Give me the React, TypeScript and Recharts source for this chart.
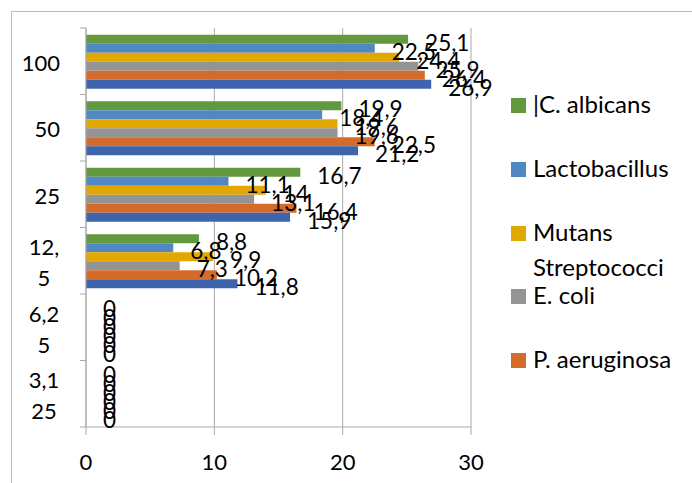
import React from "react";
import { Bar, BarChart, CartesianGrid, LabelList, XAxis, YAxis } from "recharts";

// concentrations, top to bottom
const concentrations = ["100", "50", "25", "12,5", "6,25", "3,125"];

const cAlbicans = [25.1, 19.9, 16.7, 8.8, 0, 0];
const lactobacillus = [22.5, 18.4, 11.1, 6.8, 0, 0];
const mutansStrep = [24.4, 19.6, 14, 9.9, 0, 0];
const eColi = [25.9, 19.6, 13.1, 7.3, 0, 0];
const pAeruginosa = [26.4, 22.5, 16.4, 10.2, 0, 0];
const sAureus = [26.9, 21.2, 15.9, 11.8, 0, 0];

const xTicks = [0, 10, 20, 30];

const SERIES = [
  { key: "calb", name: "|C. albicans", values: cAlbicans, color: "#62993f", legend: true },
  { key: "lacto", name: "Lactobacillus", values: lactobacillus, color: "#4f88c2", legend: true },
  { key: "mutans", name: "Mutans Streptococci", values: mutansStrep, color: "#e2a700", legend: true },
  { key: "ecoli", name: "E. coli", values: eColi, color: "#949494", legend: true },
  { key: "paer", name: "P. aeruginosa", values: pAeruginosa, color: "#d46b2b", legend: true },
  { key: "saur", name: "S. aureus", values: sAureus, color: "#3e64ae", legend: false },
];

const data = concentrations.map((c, i) => {
  const row: Record<string, string | number> = { conc: c };
  SERIES.forEach((s) => (row[s.key] = s.values[i]));
  return row;
});

const FONT = "Lato, 'Open Sans', sans-serif";
const AXIS_GRAY = "#a9a9a9";
const PLOT_LEFT = 86;
const PLOT_TOP = 28;
const PLOT_BOTTOM = 427;
const BAND = (PLOT_BOTTOM - PLOT_TOP) / concentrations.length;

const fmt = (v: number) => String(v).replace(".", ",");

// Excel-style wrapping: the label column only fits three characters
function splitLabel(s: string) {
  const out: string[] = [];
  for (let i = 0; i < s.length; i += 3) out.push(s.slice(i, i + 3));
  return out;
}

function CategoryTick(props: any) {
  const { y, payload, index } = props;
  const half = BAND / 2;
  const lines = splitLabel(String(payload.value));
  const last = index === concentrations.length - 1;
  return (
    <g>
      <line x1={PLOT_LEFT - 6} x2={PLOT_LEFT} y1={y - half} y2={y - half} stroke={AXIS_GRAY} />
      {last && <line x1={PLOT_LEFT - 6} x2={PLOT_LEFT} y1={y + half} y2={y + half} stroke={AXIS_GRAY} />}
      {lines.length === 1 ? (
        <text x={PLOT_LEFT - 26} y={y + 1} textAnchor="end" dominantBaseline="central"
          fontSize={22} fontFamily={FONT} fill="#000">
          {lines[0]}
        </text>
      ) : (
        lines.map((ln, i) => (
          <text key={i} x={PLOT_LEFT - 42} y={y + (i === 0 ? -14 : 17)} textAnchor="middle"
            dominantBaseline="central" fontSize={22} fontFamily={FONT} fill="#000">
            {ln}
          </text>
        ))
      )}
    </g>
  );
}

function ValueLabel(props: any) {
  const { x, y, width, height, value } = props;
  const w = Math.max(0, Number(width) || 0);
  return (
    <text x={Number(x) + w + 17} y={Number(y) + Number(height) / 2 + 3}
      dominantBaseline="central" fontSize={22.5} fontFamily={FONT} fill="#000">
      {fmt(Number(value))}
    </text>
  );
}

function SideLegend() {
  const items = SERIES.filter((s) => s.legend);
  let top = 105;
  return (
    <div style={{ position: "absolute", left: 0, top: 0, fontFamily: FONT, fontSize: 24, color: "#000" }}>
      {items.map((s) => {
        const words = s.name === "Mutans Streptococci" ? ["Mutans", "Streptococci"] : [s.name];
        const cy = top;
        top += words.length > 1 ? 63 : 64;
        return (
          <div key={s.key}>
            <div style={{ position: "absolute", left: 511, top: cy - 7.5, width: 15, height: 15, background: s.color }} />
            {words.map((w, i) => (
              <div key={i} style={{ position: "absolute", left: 533, top: cy - 16 + i * 35, lineHeight: "30px", whiteSpace: "nowrap" }}>
                {w}
              </div>
            ))}
          </div>
        );
      })}
    </div>
  );
}

export default function App() {
  return (
    <div style={{ position: "absolute", left: 0, top: 0, width: 692, height: 483, background: "#fff", overflow: "hidden" }}>
      <div style={{ position: "absolute", left: 11, top: 11, right: -5, bottom: -5, borderLeft: "1px solid #bdbdbd", borderTop: "1px solid #bdbdbd" }} />
      <BarChart
        width={692}
        height={483}
        data={data}
        layout="vertical"
        margin={{ top: PLOT_TOP, right: 221, left: 16, bottom: 0 }}
        barCategoryGap="10%"
        barGap={0}
        style={{ position: "absolute", left: 0, top: 0 }}
      >
        <CartesianGrid horizontal={false} stroke={AXIS_GRAY} />
        <XAxis
          type="number"
          domain={[0, 30]}
          ticks={xTicks}
          height={56}
          axisLine={{ stroke: AXIS_GRAY }}
          tickLine={{ stroke: AXIS_GRAY }}
          tickSize={8}
          tickMargin={19}
          tick={{ fontSize: 22, fontFamily: FONT, fill: "#000" }}
        />
        <YAxis
          type="category"
          dataKey="conc"
          width={70}
          axisLine={{ stroke: AXIS_GRAY }}
          tickLine={false}
          tick={<CategoryTick />}
          interval={0}
        />
        {SERIES.map((s) => (
          // tiny minPointSize keeps zero-value bars (and their "0" labels) in the layout
          <Bar key={s.key} dataKey={s.key} name={s.name} fill={s.color} minPointSize={0.01} isAnimationActive={false}>
            <LabelList dataKey={s.key} content={<ValueLabel />} />
          </Bar>
        ))}
      </BarChart>
      <SideLegend />
    </div>
  );
}
